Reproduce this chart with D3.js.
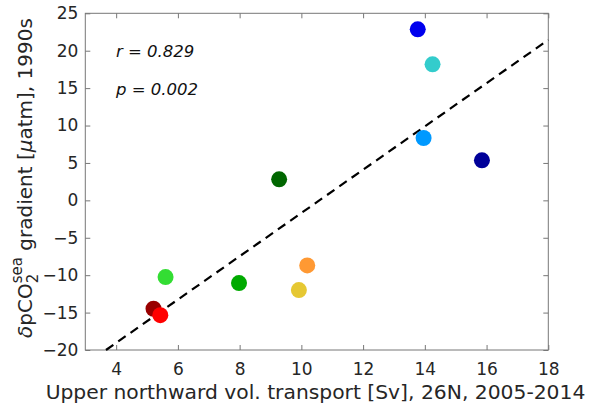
<!DOCTYPE html>
<html><head><meta charset="utf-8">
<script src="https://cdn.jsdelivr.net/npm/d3@7"></script>
<style>body{margin:0;background:#fff}svg{font-family:"DejaVu Sans",sans-serif}</style>
</head><body>
<svg id="c" width="589" height="407"></svg>
<script>
const xValues = [13.77, 14.25, 13.96, 15.85, 9.28, 5.6, 7.98, 5.21, 5.43, 9.92, 10.19];
const yValues = [22.86, 18.18, 8.33, 5.35, 2.81, -10.25, -11.05, -14.49, -15.35, -11.99, -8.69];
const pointColors = ["#0000ee", "#33cccc", "#0099ff", "#000099", "#006600", "#33dd33", "#00aa00", "#990000", "#ff0000", "#e6c833", "#ff9933"];
const fitX = [3.67, 18];
const fitY = [-20, 21.45];
const xTicks = [4, 6, 8, 10, 12, 14, 16, 18];
const yTicks = [-20, -15, -10, -5, 0, 5, 10, 15, 20, 25];
const statsText = ["r = 0.829", "p = 0.002"];

const svg = d3.select("#c");
const L = 85.3, R = 548.3, T = 13.3, B = 350;
const x = d3.scaleLinear().domain([3, 18]).range([L, R]);
const y = d3.scaleLinear().domain([-20, 25]).range([B, T]);
const axCol = "#777", txtCol = "#262626";

function styleAxis(g, showLabels) {
  g.select(".domain").remove();
  g.selectAll(".tick line").attr("stroke", axCol);
  g.selectAll(".tick text").attr("fill", txtCol).style("font-size", "17px").style("font-family", "DejaVu Sans");
  if (!showLabels) g.selectAll(".tick text").remove();
}
svg.append("g").attr("transform", `translate(0,${B})`)
  .call(d3.axisTop(x).tickValues(xTicks).tickSize(5).tickFormat(d3.format("d")))
  .call(g => styleAxis(g, false));
svg.append("g").attr("transform", `translate(0,${B})`)
  .call(d3.axisBottom(x).tickValues(xTicks).tickSize(0).tickPadding(13).tickFormat(d3.format("d")))
  .call(g => styleAxis(g, true));
svg.append("g").attr("transform", `translate(0,${T})`)
  .call(d3.axisBottom(x).tickValues(xTicks).tickSize(5)).call(g => styleAxis(g, false));
svg.append("g").attr("transform", `translate(${L},0)`)
  .call(d3.axisRight(y).tickValues(yTicks).tickSize(5)).call(g => styleAxis(g, false));
svg.append("g").attr("transform", `translate(${L},0)`)
  .call(d3.axisLeft(y).tickValues(yTicks).tickSize(0).tickPadding(7).tickFormat(d3.format("d")))
  .call(g => styleAxis(g, true));
svg.append("g").attr("transform", `translate(${R},0)`)
  .call(d3.axisLeft(y).tickValues(yTicks).tickSize(5)).call(g => styleAxis(g, false));
svg.append("rect").attr("x", L).attr("y", T).attr("width", R - L).attr("height", B - T)
  .attr("fill", "none").attr("stroke", axCol).attr("stroke-width", 1);

// fit line
svg.append("line").attr("x1", x(fitX[0])).attr("y1", y(fitY[0])).attr("x2", x(fitX[1])).attr("y2", y(fitY[1]))
  .attr("stroke", "#000").attr("stroke-width", 2.2).attr("stroke-dasharray", "9,6");

// points
svg.selectAll("circle.pt").data(xValues).join("circle").attr("class", "pt")
  .attr("cx", d => x(d)).attr("cy", (d, i) => y(yValues[i])).attr("r", 8)
  .attr("fill", (d, i) => pointColors[i]);

// stats
svg.selectAll("text.st").data(statsText).join("text").attr("class", "st")
  .attr("x", 116).attr("y", (d, i) => 56.5 + i * 38)
  .attr("fill", "#111").style("font-size", "16.5px").style("font-style", "italic").text(d => d);

// x label
svg.append("text").attr("x", 315.5).attr("y", 399).attr("text-anchor", "middle")
  .attr("fill", txtCol).style("font-size", "20.3px")
  .text("Upper northward vol. transport [Sv], 26N, 2005-2014");

// y label
const yl = svg.append("text").attr("transform", "translate(32,178) rotate(-90)")
  .attr("fill", txtCol).style("font-size", "20px");
yl.append("tspan").style("font-style", "italic").text("\u03b4");
yl.append("tspan").text("pCO");
const sub = yl.append("tspan").attr("dy", 6).style("font-size", "15px").text("2");
const sup = yl.append("tspan").style("font-size", "15px").text("sea");
const rest = yl.append("tspan").text(" gradient [");
yl.append("tspan").style("font-style", "italic").text("\u03bc");
yl.append("tspan").text("atm], 1990s");
const w2 = sub.node().getComputedTextLength();
sup.attr("dx", -w2).attr("dy", -16);
rest.attr("dy", 10);
const tw = yl.node().getComputedTextLength() - w2;
yl.attr("x", -tw / 2);
</script>
</body></html>
